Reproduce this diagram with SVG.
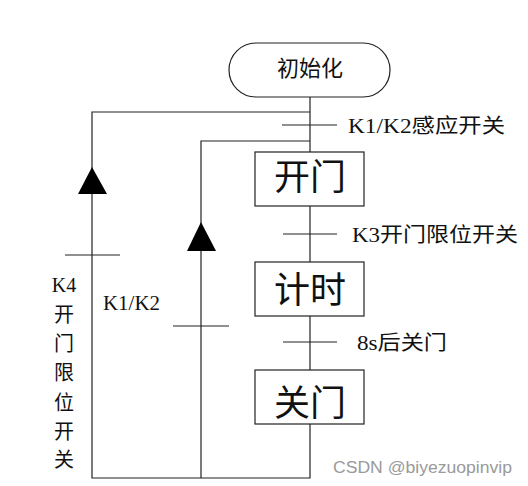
<svg xmlns="http://www.w3.org/2000/svg" width="528" height="486" viewBox="0 0 528 486">
<style>
.ln{stroke:#222;stroke-width:1.2;fill:none}
.box{stroke:#222;stroke-width:1.2;fill:#fff}
.t{font-family:"Liberation Serif","Noto Sans CJK SC",serif;fill:#111}
.big{font-size:36px;text-anchor:middle}
.lab{font-size:20px}
.arr{fill:#000}
</style>
<rect width="528" height="486" fill="#fff"/>
<g id="connectors">
<line class="ln" x1="310" y1="97" x2="310" y2="152"/>
<line class="ln" x1="310" y1="206" x2="310" y2="262"/>
<line class="ln" x1="310" y1="316" x2="310" y2="370"/>
<polyline class="ln" points="310,424 310,478 92,478 92,112 310,112"/>
<polyline class="ln" points="201,478 201,141 310,141"/>
<line class="ln" x1="282" y1="125" x2="337" y2="125"/>
<line class="ln" x1="283" y1="234" x2="337" y2="234"/>
<line class="ln" x1="283" y1="342" x2="337" y2="342"/>
<line class="ln" x1="65" y1="255" x2="120" y2="255"/>
<line class="ln" x1="173" y1="326" x2="229" y2="326"/>
<polygon class="arr" points="92,167 78,194 107,194"/>
<polygon class="arr" points="201,222 187,251 216,251"/>
</g>
<g id="init">
<rect class="box" x="229" y="43" width="161" height="54" rx="27" ry="27"/>
<text class="t" x="310" y="76" font-size="22" text-anchor="middle">初始化</text>
</g>
<g id="open">
<rect class="box" x="255" y="152" width="109" height="54"/>
<text class="t big" x="310" y="190">开门</text>
</g>
<g id="timer">
<rect class="box" x="255" y="262" width="109" height="54"/>
<text class="t big" x="310" y="303">计时</text>
</g>
<g id="close">
<rect class="box" x="255" y="370" width="109" height="54"/>
<text class="t big" x="310" y="416">关门</text>
</g>
<g id="labels">
<text class="t lab" x="348" y="133" textLength="157" lengthAdjust="spacingAndGlyphs">K1/K2感应开关</text>
<text class="t lab" x="352" y="242" textLength="166" lengthAdjust="spacingAndGlyphs">K3开门限位开关</text>
<text class="t lab" x="357" y="350" textLength="90" lengthAdjust="spacingAndGlyphs">8s后关门</text>
<text class="t lab" x="103" y="310" textLength="57" lengthAdjust="spacingAndGlyphs">K1/K2</text>
<g class="t lab" text-anchor="middle">
<text x="64" y="292">K4</text>
<text x="64" y="322">开</text>
<text x="64" y="351">门</text>
<text x="64" y="380">限</text>
<text x="64" y="410">位</text>
<text x="64" y="439">开</text>
<text x="64" y="467">关</text>
</g>
</g>
<text x="333" y="473" font-family="Liberation Sans,Arial,sans-serif" font-size="16" fill="#9a9a9a" textLength="179" lengthAdjust="spacingAndGlyphs">CSDN @biyezuopinvip</text>
</svg>
